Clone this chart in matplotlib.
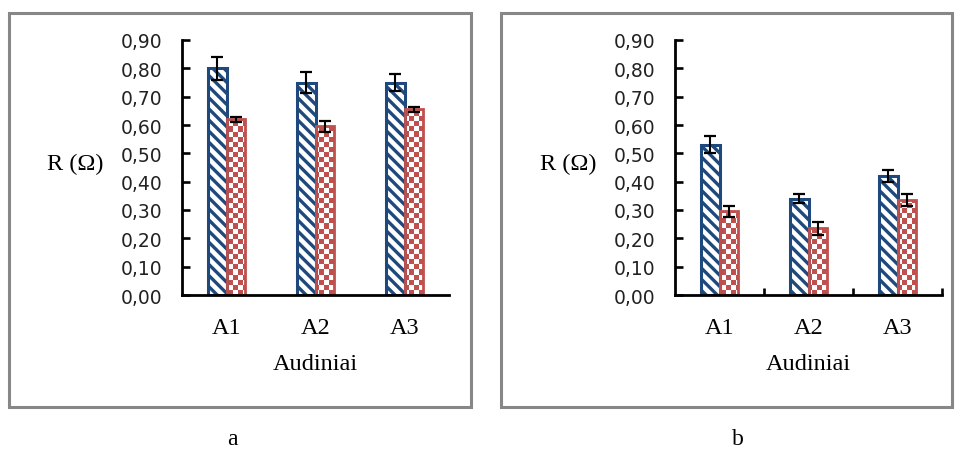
import matplotlib
matplotlib.use('Agg')
import matplotlib.pyplot as plt
import numpy as np
from matplotlib.colors import ListedColormap
from matplotlib.patches import Rectangle

# ---------------- data ----------------
categories = ['A1', 'A2', 'A3']
yticks = [0.0, 0.1, 0.2, 0.3, 0.4, 0.5, 0.6, 0.7, 0.8, 0.9]
ytick_labels = ['0,00', '0,10', '0,20', '0,30', '0,40', '0,50', '0,60', '0,70', '0,80', '0,90']

a_series1 = [0.80, 0.75, 0.75]
a_series1_err = [0.040, 0.038, 0.031]
a_series2 = [0.62, 0.595, 0.655]
a_series2_err = [0.008, 0.020, 0.009]

b_series1 = [0.53, 0.34, 0.42]
b_series1_err = [0.030, 0.017, 0.020]
b_series2 = [0.295, 0.235, 0.335]
b_series2_err = [0.018, 0.022, 0.020]

panel_labels = ['a', 'b']
y_label = 'R (Ω)'
x_label = 'Audiniai'

# ---------------- style ----------------
BLUE = '#1F497D'
RED = '#C0504D'
SERIF = 'Liberation Serif'
SANS = 'DejaVu Sans'
plt.rcParams['hatch.linewidth'] = 2.4

W, H = 957, 452
fig = plt.figure(figsize=(W / 100, H / 100), dpi=100)


def fx(px):
    return px / W


def fy(py):
    return 1 - py / H


def make_panel(left_px, s1, s1e, s2, s2e, between_ticks):
    ax = fig.add_axes([fx(left_px), fy(296), fx(267), 255 / H])
    x = np.arange(len(categories))
    w = 0.213
    ax.bar(x - w / 2, s1, w, facecolor='white', edgecolor=BLUE,
           hatch='\\\\\\', linewidth=2.2, zorder=2)
    rb = ax.bar(x + w / 2, s2, w, facecolor='none', edgecolor=RED,
                linewidth=2.0, zorder=2, hatch=None)
    # checkerboard fill for second series
    rows, cols = 50, 53
    checker = np.indices((rows, cols)).sum(axis=0) % 2
    cmap = ListedColormap(['white', RED])
    for p in rb.patches:
        im = ax.imshow(checker, cmap=cmap, extent=(-0.5, 2.5, 0, 0.9),
                       aspect='auto', interpolation='nearest', origin='lower',
                       zorder=1.9)
        im.set_clip_path(p)
    ax.errorbar(x - w / 2, s1, yerr=s1e, fmt='none', ecolor='black',
                elinewidth=1.5, capsize=4.5, capthick=1.6, zorder=3)
    ax.errorbar(x + w / 2, s2, yerr=s2e, fmt='none', ecolor='black',
                elinewidth=1.5, capsize=4.5, capthick=1.6, zorder=3)

    ax.set_xlim(-0.5, 2.5)
    ax.set_ylim(0, 0.9)
    for s in ['top', 'right']:
        ax.spines[s].set_visible(False)
    for s in ['left', 'bottom']:
        ax.spines[s].set_linewidth(2.0)
    ax.set_yticks(yticks)
    ax.set_yticklabels(ytick_labels, fontfamily=SANS, fontsize=13.5, color='#222222')
    ax.tick_params(axis='y', direction='in', length=6, width=1.9, pad=14)
    ax.set_xticks(x)
    ax.set_xticklabels(categories, fontfamily=SERIF, fontsize=17.5)
    ax.tick_params(axis='x', which='major', length=0, pad=16)
    if between_ticks:
        ax.set_xticks([0.5, 1.5, 2.5], minor=True)
        ax.tick_params(axis='x', which='minor', direction='in', length=5, width=1.9)
    ax.set_xlabel(x_label, fontfamily=SERIF, fontsize=17.5, labelpad=11)
    ax.text(-0.40, 0.514, y_label, transform=ax.transAxes, ha='center',
            va='center', fontsize=17.5, fontfamily=SERIF)
    ax.set_facecolor('none')
    return ax


make_panel(182, a_series1, a_series1_err, a_series2, a_series2_err, False)
make_panel(675, b_series1, b_series1_err, b_series2, b_series2_err, True)

# panel borders
for x0, x1 in [(9, 471), (501, 952)]:
    fig.add_artist(Rectangle((fx(x0), fy(408)), fx(x1 - x0), (408 - 14) / H,
                             transform=fig.transFigure, fill=False,
                             edgecolor='#878787', linewidth=2.2))

fig.text(fx(232), fy(440), panel_labels[0], ha='center', va='center',
         fontsize=17, fontfamily=SERIF)
fig.text(fx(738), fy(440), panel_labels[1], ha='center', va='center',
         fontsize=17, fontfamily=SERIF)

fig.savefig('out.png', dpi=100)
